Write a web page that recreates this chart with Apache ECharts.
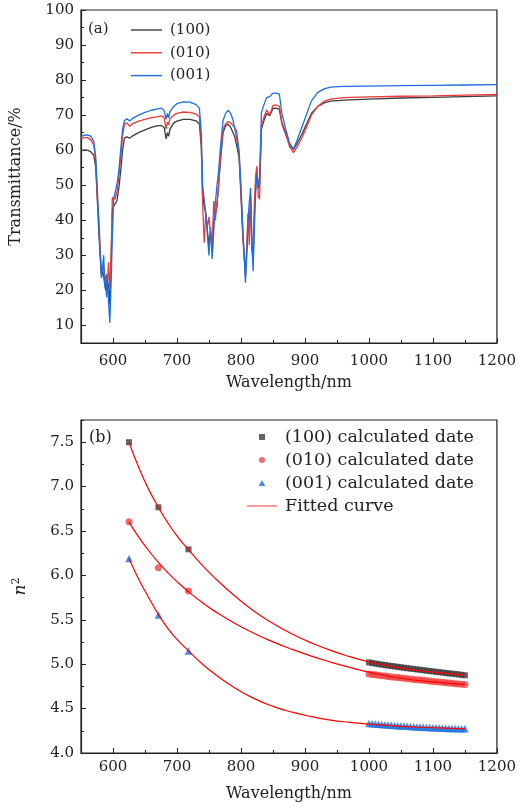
<!DOCTYPE html>
<html><head><meta charset="utf-8">
<script src="https://cdn.jsdelivr.net/npm/echarts@6/dist/echarts.min.js"></script>
<style>html,body{margin:0;padding:0;background:#fff}#c{width:519px;height:809px}</style>
</head><body><div id="c"></div>
<script>
// ---------- Panel (a): transmittance spectra ----------
const wavelength = [
  550, 555, 560, 565, 570, 573, 576, 578, 580, 582,
  584, 585.5, 587, 588.5, 590, 591.5, 593, 595, 597, 599,
  601, 603, 606, 609, 612, 615, 618, 622, 626, 630,
  640, 650, 660, 670, 676, 680, 683, 685, 687, 689,
  691, 695, 700, 710, 720, 730, 735, 738, 740, 742.5,
  745, 747.5, 750, 752.5, 755, 757.5, 760, 762.5, 765, 768,
  772, 776, 780, 784, 787, 790, 793, 797, 800, 803,
  805, 807, 809, 811, 813, 815, 817, 819, 821, 823,
  825, 827, 829, 832, 836, 840, 845, 850, 855, 860,
  864, 870, 876, 882, 888, 895, 900, 910, 920, 930,
  940, 960, 1000, 1050, 1100, 1150, 1200
];
const trans100 = [
  59.8, 60.1, 60.0, 59.6, 58.5, 55, 44, 36, 30, 24,
  25.5, 24, 22, 20, 24.6, 20.5, 22, 16, 28, 43,
  44, 43.5, 45.5, 49, 54, 60, 63.5, 63.8, 63.4, 64,
  65, 65.8, 66.5, 67, 67, 66.5, 63.2, 65, 64, 66,
  66, 67.8, 68.3, 68.8, 68.8, 68.4, 67.5, 61, 48, 44,
  42, 37, 33, 37, 31, 40, 42, 44, 50, 57,
  65, 67, 67.4, 66.5, 66.8, 64, 61.5, 58, 47, 35,
  30, 24, 31, 38, 40, 45, 32, 28, 42, 50,
  54, 49, 50, 66, 68.5, 70.5, 69.8, 71.9, 72, 71.6,
  67.5, 64.5, 61.5, 60.2, 62, 64.5, 66.5, 70.5, 72.5, 73.5,
  74, 74.3, 74.6, 74.9, 75.1, 75.3, 75.5
];
const trans010 = [
  63.2, 63.6, 63.6, 63.0, 61.5, 57, 45, 40, 32, 25,
  26, 27, 24, 23, 24, 22, 28, 20, 30, 46.5,
  47, 46, 48, 52, 58, 64, 67.5, 67.8, 66.8, 67.5,
  68.3, 68.8, 69.3, 69.6, 69.8, 69.2, 66, 68, 67.3, 69,
  68.7, 70, 70.5, 70.9, 70.8, 70.3, 69.5, 62, 45, 33.6,
  42, 38, 41, 36, 33, 45.5, 40, 39.5, 50, 58,
  66, 67.5, 68.2, 67.8, 68.3, 66.5, 63.5, 59, 48, 36,
  30, 25, 32, 42, 33, 47, 33, 30, 45, 53,
  55.5, 47, 46, 67, 69.5, 71.5, 70, 72.8, 72.9, 72.5,
  68, 65, 61, 59.3, 61, 63.5, 65.5, 70, 72.5, 74,
  74.6, 75, 75.2, 75.4, 75.5, 75.7, 75.9
];
const trans001 = [
  63.8, 64.3, 64.4, 64.0, 62.5, 58, 47, 38, 30, 23.5,
  27, 30, 21, 24, 18, 23, 17, 10.8, 22, 35,
  46, 46.5, 50, 54, 60, 66, 68.5, 69, 68.3, 69,
  70, 70.8, 71.4, 71.8, 72, 71.3, 68.8, 70.5, 69.2, 71,
  70.5, 72.5, 73.3, 73.8, 73.7, 73, 72, 65, 50, 46,
  42, 36, 30, 38, 29, 37, 45, 50, 54, 61,
  68.5, 70.5, 71.4, 70.5, 69, 66.5, 65.5, 60, 50, 37,
  30, 22.2, 30, 40, 45, 49.3, 35, 25.5, 38, 48,
  53, 50, 52, 70.8, 73, 75, 75.3, 76.3, 76.3, 76,
  70.5, 66, 62, 60.3, 63, 66.5, 69, 74, 76.5, 77.5,
  78, 78.2, 78.3, 78.4, 78.5, 78.6, 78.7
];

// ---------- Panel (b): n^2 vs wavelength ----------
const calcWavelength = [
  625, 671, 718,
  1000, 1005, 1010, 1015, 1020, 1025, 1030, 1035, 1040, 1045,
  1050, 1055, 1060, 1065, 1070, 1075, 1080, 1085, 1090, 1095,
  1100, 1105, 1110, 1115, 1120, 1125, 1130, 1135, 1140, 1145, 1150
];
const n2_100 = [
  7.50, 6.767, 6.293,
  5.020, 5.013, 5.007, 5.001, 4.996, 4.990, 4.985, 4.980, 4.975, 4.970,
  4.965, 4.960, 4.955, 4.950, 4.946, 4.941, 4.937, 4.932, 4.928, 4.923,
  4.919, 4.914, 4.910, 4.906, 4.901, 4.897, 4.893, 4.889, 4.885, 4.880, 4.875
];
const n2_010 = [
  6.605, 6.086, 5.823,
  4.890, 4.885, 4.880, 4.875, 4.871, 4.866, 4.862, 4.857, 4.853, 4.849,
  4.845, 4.841, 4.837, 4.833, 4.829, 4.825, 4.821, 4.818, 4.814, 4.810,
  4.806, 4.803, 4.799, 4.796, 4.792, 4.789, 4.785, 4.781, 4.778, 4.774, 4.770
];
const n2_001 = [
  6.19, 5.553, 5.150,
  4.333, 4.330, 4.327, 4.324, 4.321, 4.318, 4.315, 4.313, 4.310, 4.308,
  4.305, 4.303, 4.300, 4.298, 4.296, 4.294, 4.292, 4.290, 4.288, 4.286,
  4.284, 4.283, 4.281, 4.280, 4.278, 4.277, 4.276, 4.275, 4.274, 4.273, 4.272
];
const fitWavelength = [625, 640, 655, 671, 685, 700, 718, 740, 760, 790, 820, 850, 880, 910, 940, 970, 1000, 1050, 1100, 1150];
const fit100 = [7.50, 7.22, 6.98, 6.767, 6.60, 6.445, 6.29, 6.11, 5.965, 5.77, 5.60, 5.46, 5.34, 5.24, 5.155, 5.085, 5.025, 4.955, 4.91, 4.877];
const fit010 = [6.60, 6.433, 6.286, 6.146, 6.036, 5.93, 5.815, 5.691, 5.592, 5.461, 5.349, 5.252, 5.167, 5.091, 5.024, 4.964, 4.91, 4.842, 4.80, 4.772];
const fit001 = [6.19, 5.96, 5.76, 5.56, 5.41, 5.28, 5.15, 5.00, 4.885, 4.735, 4.615, 4.525, 4.46, 4.41, 4.37, 4.345, 4.325, 4.30, 4.285, 4.272];

const xTicks = [600, 700, 800, 900, 1000, 1100, 1200];
const yTicksA = [10, 20, 30, 40, 50, 60, 70, 80, 90, 100];
const yTicksB = [4.0, 4.5, 5.0, 5.5, 6.0, 6.5, 7.0, 7.5];

const FONT = 'DejaVu Serif';
const INK = '#222';
const pairs = (xs, ys) => xs.map((x, i) => [x, ys[i]]);
const txt = (size) => ({ fontFamily: FONT, fontSize: size, color: INK });

function majorX(grid, name, gap, margin) {
  return {
    gridIndex: grid, type: 'value', min: 550, max: 1200, position: 'bottom',
    name: name, nameLocation: 'middle', nameGap: gap, nameTextStyle: txt(16),
    axisLine: { onZero: false, lineStyle: { color: INK, width: 1.2 } },
    axisTick: { inside: true, length: 5, customValues: xTicks, lineStyle: { color: INK, width: 1 } },
    axisLabel: { customValues: xTicks, margin: margin, formatter: v => String(v), ...txt(15) },
    splitLine: { show: false }
  };
}
function minorX(grid) {
  return {
    gridIndex: grid, type: 'value', min: 550, max: 1200, interval: 50, position: 'bottom',
    axisLine: { show: false }, axisLabel: { show: false }, splitLine: { show: false },
    axisTick: { inside: true, length: 3, lineStyle: { color: INK, width: 1 } }
  };
}

const COL100 = '#3d3d3d', COL010 = '#ee3a3a', COL001 = '#1c6fe0';

const option = {
  animation: false,
  backgroundColor: '#fff',
  grid: [
    { left: 81, top: 10, width: 416, height: 333, show: true, borderColor: INK, borderWidth: 1.2, backgroundColor: 'transparent' },
    { left: 81, top: 420, width: 416, height: 333, show: true, borderColor: INK, borderWidth: 1.2, backgroundColor: 'transparent' }
  ],
  xAxis: [majorX(0, 'Wavelength/nm', 32, 11), minorX(0), majorX(1, 'Wavelength/nm', 33, 7), minorX(1)],
  yAxis: [
    {
      gridIndex: 0, type: 'value', min: 5, max: 100, position: 'left',
      name: 'Transmittance/%', nameLocation: 'middle', nameGap: 57, nameTextStyle: txt(16),
      axisLine: { onZero: false, lineStyle: { color: INK, width: 1.2 } },
      axisTick: { inside: true, length: 5, customValues: yTicksA, lineStyle: { color: INK, width: 1 } },
      axisLabel: { customValues: yTicksA, margin: 7, ...txt(15) },
      splitLine: { show: false }
    },
    {
      gridIndex: 0, type: 'value', min: 5, max: 100, interval: 5, position: 'left',
      axisLine: { show: false }, axisLabel: { show: false }, splitLine: { show: false },
      axisTick: { inside: true, length: 3, lineStyle: { color: INK, width: 1 } }
    },
    {
      gridIndex: 1, type: 'value', min: 4, max: 7.75, position: 'left',
      name: '{i|n}{s|2}', nameLocation: 'middle', nameGap: 50,
      nameTextStyle: {
        ...txt(16),
        rich: {
          i: { fontFamily: FONT, fontSize: 17, fontStyle: 'italic', color: INK },
          s: { fontFamily: FONT, fontSize: 11, color: INK, verticalAlign: 'top', padding: [0, 0, 9, 0] }
        }
      },
      axisLine: { onZero: false, lineStyle: { color: INK, width: 1.2 } },
      axisTick: { inside: true, length: 5, customValues: yTicksB, lineStyle: { color: INK, width: 1 } },
      axisLabel: { customValues: yTicksB, margin: 7, formatter: v => v.toFixed(1), ...txt(15) },
      splitLine: { show: false }
    },
    {
      gridIndex: 1, type: 'value', min: 4, max: 7.75, interval: 0.25, position: 'left',
      axisLine: { show: false }, axisLabel: { show: false }, splitLine: { show: false },
      axisTick: { inside: true, length: 3, lineStyle: { color: INK, width: 1 } }
    }
  ],
  legend: [
    {
      left: 131, top: 22, padding: 0, orient: 'vertical', itemWidth: 31, itemHeight: 14, itemGap: 6.8,
      icon: 'path://M0,6.3H31V7.7H0Z',
      data: ['(100)', '(010)', '(001)'],
      textStyle: { ...txt(15), lineHeight: 16, padding: [0, 0, 0, 3] }
    },
    {
      left: 247, top: 428, padding: 0, orient: 'vertical', itemWidth: 30, itemHeight: 6, itemGap: 5,
      data: [
        { name: '(100) calculated date', icon: 'path://M0,0H10V10H0Z' },
        { name: '(010) calculated date', icon: 'circle' },
        { name: '(001) calculated date', icon: 'path://M5,0L10,9L0,9Z' },
        { name: 'Fitted curve', icon: 'path://M0,2.6H30V3.4H0Z' }
      ],
      textStyle: { ...txt(17.5), lineHeight: 18, padding: [0, 0, 0, 3] }
    }
  ],
  graphic: [
    { type: 'text', left: 88, top: 22, style: { text: '(a)', font: '15px "DejaVu Serif"', fill: INK } },
    { type: 'text', left: 89, top: 430, style: { text: '(b)', font: '16px "DejaVu Serif"', fill: INK } }
  ],
  series: [
    { name: '(100)', type: 'line', xAxisIndex: 0, yAxisIndex: 0, data: pairs(wavelength, trans100), symbol: 'none', lineStyle: { color: COL100, width: 1.3 }, itemStyle: { color: COL100 } },
    { name: '(010)', type: 'line', xAxisIndex: 0, yAxisIndex: 0, data: pairs(wavelength, trans010), symbol: 'none', lineStyle: { color: COL010, width: 1.3 }, itemStyle: { color: COL010 } },
    { name: '(001)', type: 'line', xAxisIndex: 0, yAxisIndex: 0, data: pairs(wavelength, trans001), symbol: 'none', lineStyle: { color: COL001, width: 1.3 }, itemStyle: { color: COL001 } },

    { name: '(100) calculated date', type: 'scatter', xAxisIndex: 2, yAxisIndex: 2, data: pairs(calcWavelength, n2_100), symbol: 'rect', symbolSize: 6, itemStyle: { color: COL100 } },
    { name: '(010) calculated date', type: 'scatter', xAxisIndex: 2, yAxisIndex: 2, data: pairs(calcWavelength, n2_010), symbol: 'circle', symbolSize: 7, itemStyle: { color: '#f04545' } },
    { name: '(001) calculated date', type: 'scatter', xAxisIndex: 2, yAxisIndex: 2, data: pairs(calcWavelength, n2_001), symbol: 'triangle', symbolSize: 7.5, itemStyle: { color: COL001 } },

    { name: 'Fitted curve', type: 'line', xAxisIndex: 2, yAxisIndex: 2, data: pairs(fitWavelength, fit100), smooth: 0.5, symbol: 'none', lineStyle: { color: '#ff0000', width: 1.2 }, itemStyle: { color: '#ff0000' } },
    { name: 'Fitted curve', type: 'line', xAxisIndex: 2, yAxisIndex: 2, data: pairs(fitWavelength, fit010), smooth: 0.5, symbol: 'none', lineStyle: { color: '#ff0000', width: 1.2 }, itemStyle: { color: '#ff0000' } },
    { name: 'Fitted curve', type: 'line', xAxisIndex: 2, yAxisIndex: 2, data: pairs(fitWavelength, fit001), smooth: 0.5, symbol: 'none', lineStyle: { color: '#ff0000', width: 1.2 }, itemStyle: { color: '#ff0000' } }
  ]
};
const chart = echarts.init(document.getElementById('c'), null, { renderer: 'canvas' });
chart.setOption(option);
</script>
</body></html>
